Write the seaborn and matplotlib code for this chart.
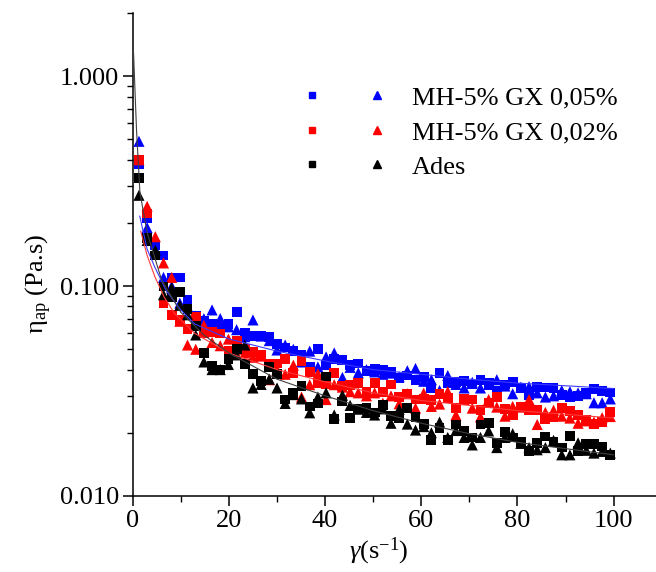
import matplotlib
matplotlib.use('Agg')
import matplotlib.pyplot as plt
import matplotlib.ticker as mticker
from matplotlib.lines import Line2D
from matplotlib.legend_handler import HandlerTuple
import pandas as pd
import seaborn as sns

# shear rate (s-1), same grid for every series
rate = [1.3, 3.0, 4.7, 6.4, 8.1, 9.8, 11.4, 13.1, 14.8, 16.5,
        18.2, 19.9, 21.6, 23.3, 25.0, 26.7, 28.4, 30.0, 31.7, 33.4,
        35.1, 36.8, 38.5, 40.2, 41.9, 43.6, 45.2, 46.9, 48.6, 50.3,
        52.0, 53.7, 55.4, 57.1, 58.8, 60.5, 62.1, 63.8, 65.5, 67.2,
        68.9, 70.6, 72.3, 74.0, 75.7, 77.4, 79.0, 80.7, 82.4, 84.1,
        85.8, 87.5, 89.2, 90.9, 92.6, 94.3, 95.9, 97.6, 99.3]

# apparent viscosity (Pa.s)
blue_sq = [0.38, 0.21, 0.157, 0.14, 0.11, 0.11, 0.086, 0.072, 0.068, 0.066,
           0.064, 0.066, 0.075, 0.060, 0.058, 0.058, 0.057, 0.053, 0.051, 0.049,
           0.047, 0.041, 0.050, 0.042, 0.045, 0.0443, 0.042, 0.0428, 0.0395, 0.0405,
           0.0399, 0.039, 0.0364, 0.0375, 0.0358, 0.037, 0.0328, 0.0385, 0.0344, 0.0348,
           0.0354, 0.034, 0.0358, 0.0346, 0.0318, 0.034, 0.0348, 0.0327, 0.0303, 0.033,
           0.0329, 0.0327, 0.0303, 0.0296, 0.030, 0.031, 0.0322, 0.0317, 0.0311]
blue_tri = [0.49, 0.19, 0.15, 0.11, 0.10, 0.083, 0.080, 0.072, 0.070, 0.077,
            0.070, 0.064, 0.062, 0.0574, 0.069, 0.0578, 0.055, 0.0496, 0.0524, 0.050,
            0.0435, 0.049, 0.0412, 0.046, 0.048, 0.0367, 0.041, 0.0386, 0.040, 0.039,
            0.038, 0.0385, 0.037, 0.0395, 0.0405, 0.0352, 0.0358, 0.0318, 0.0375, 0.034,
            0.0327, 0.0348, 0.0327, 0.034, 0.0358, 0.0334, 0.0307, 0.033, 0.0332, 0.031,
            0.0296, 0.030, 0.0318, 0.0314, 0.031, 0.0307, 0.0278, 0.0278, 0.029]
red_sq = [0.40, 0.222, 0.14, 0.083, 0.073, 0.069, 0.0625, 0.071, 0.060, 0.0605,
          0.0595, 0.049, 0.055, 0.050, 0.0486, 0.047, 0.0428, 0.0428, 0.045, 0.0385,
          0.044, 0.0389, 0.0346, 0.034, 0.0385, 0.0335, 0.0339, 0.0346, 0.0314, 0.0344,
          0.0314, 0.034, 0.0296, 0.0307, 0.0288, 0.029, 0.0286, 0.0306, 0.0292, 0.0262,
          0.029, 0.0288, 0.0256, 0.0277, 0.0295, 0.0259, 0.0243, 0.0265, 0.0256, 0.0256,
          0.0233, 0.0238, 0.0262, 0.0253, 0.0243, 0.0231, 0.0221, 0.0225, 0.0252]
red_tri = [0.40, 0.24, 0.172, 0.129, 0.11, 0.068, 0.0524, 0.050, 0.065, 0.0539,
           0.052, 0.0559, 0.050, 0.048, 0.0458, 0.0464, 0.0358, 0.040, 0.038, 0.042,
           0.0296, 0.0339, 0.0382, 0.0288, 0.0339, 0.033, 0.0314, 0.031, 0.030, 0.031,
           0.0277, 0.030, 0.0275, 0.0307, 0.0262, 0.0309, 0.0267, 0.0274, 0.0314, 0.0243,
           0.0288, 0.0262, 0.0238, 0.0288, 0.0265, 0.024, 0.0267, 0.0265, 0.0288, 0.0219,
           0.025, 0.0256, 0.024, 0.0235, 0.0222, 0.0228, 0.0225, 0.0236, 0.0239]
black_sq = [0.328, 0.17, 0.14, 0.0995, 0.089, 0.094, 0.078, 0.0645, 0.048, 0.0417,
            0.040, 0.045, 0.050, 0.0424, 0.038, 0.0352, 0.041, 0.038, 0.0288, 0.031,
            0.0334, 0.0267, 0.0276, 0.0371, 0.0233, 0.0282, 0.0236, 0.026, 0.0262, 0.025,
            0.0272, 0.024, 0.0236, 0.0262, 0.0238, 0.022, 0.0184, 0.021, 0.0184, 0.0219,
            0.0204, 0.019, 0.0219, 0.0223, 0.0178, 0.0202, 0.019, 0.018, 0.0163, 0.0178,
            0.0192, 0.018, 0.017, 0.0193, 0.0163, 0.0177, 0.0177, 0.0172, 0.0157]
black_tri = [0.271, 0.165, 0.148, 0.091, 0.098, 0.081, 0.073, 0.0585, 0.0435, 0.040,
             0.040, 0.0423, 0.047, 0.0524, 0.0327, 0.034, 0.036, 0.0327, 0.0276, 0.0304,
             0.029, 0.0249, 0.0296, 0.031, 0.0243, 0.0302, 0.027, 0.0259, 0.025, 0.0243,
             0.026, 0.0222, 0.0259, 0.022, 0.0206, 0.0214, 0.020, 0.0225, 0.019, 0.0205,
             0.019, 0.0175, 0.019, 0.0204, 0.0170, 0.019, 0.0198, 0.0178, 0.017, 0.0166,
             0.017, 0.0184, 0.0157, 0.0157, 0.0179, 0.0165, 0.016, 0.0163, 0.016]

# fitted curves, points
fit_blue_x = [1.45, 3, 4.6, 7, 10, 12.9, 20, 30, 40, 50, 60, 70, 80, 90, 100]
fit_blue_y = [0.216, 0.15, 0.123, 0.095, 0.077, 0.066, 0.056, 0.049, 0.044, 0.040,
              0.038, 0.036, 0.0345, 0.0335, 0.0325]
fit_red_x = [1.66, 3, 4.6, 6.5, 8.7, 12.9, 20, 30, 40, 50, 60, 70, 80, 90, 100]
fit_red_y = [0.183, 0.14, 0.111, 0.089, 0.074, 0.0595, 0.048, 0.040, 0.035, 0.031,
             0.0285, 0.027, 0.0255, 0.0245, 0.0235]
fit_black_x = [0.13, 0.8, 1.5, 3, 6, 10, 15, 20, 30, 40, 50, 60, 70, 80, 90, 100]
fit_black_y = [1.37, 0.55, 0.28, 0.18, 0.107, 0.075, 0.058, 0.048, 0.036, 0.030,
               0.0255, 0.0222, 0.0198, 0.018, 0.0168, 0.0157]

labels = ['MH-5% GX 0,05%', 'MH-5% GX 0,02%', 'Ades']
colors = ['#0000ff', '#ff0000', '#000000']
line_colors = ['#3a3aff', '#ff3a3a', '#404040']

# long tables for seaborn
rows = []
for lab, sq, tri in zip(labels, [blue_sq, red_sq, black_sq], [blue_tri, red_tri, black_tri]):
    for x, y in zip(rate, sq):
        rows.append((lab, 'sq', x, y))
    for x, y in zip(rate, tri):
        rows.append((lab, 'tri', x, y))
pts = pd.DataFrame(rows, columns=['sample', 'mark', 'rate', 'eta'])

frows = []
for lab, fx, fy in zip(labels, [fit_blue_x, fit_red_x, fit_black_x], [fit_blue_y, fit_red_y, fit_black_y]):
    for x, y in zip(fx, fy):
        frows.append((lab, x, y))
fits = pd.DataFrame(frows, columns=['sample', 'rate', 'eta'])

sns.set_style('ticks')
plt.rcParams['font.family'] = ['Liberation Serif', 'DejaVu Serif']
plt.rcParams['mathtext.fontset'] = 'custom'
plt.rcParams['mathtext.rm'] = 'Liberation Serif'
plt.rcParams['mathtext.it'] = 'Liberation Serif:italic'
for k in ['text.color', 'axes.labelcolor', 'xtick.color', 'ytick.color', 'axes.edgecolor']:
    plt.rcParams[k] = 'black'

fig = plt.figure(figsize=(6.56, 5.72), dpi=100)
ax = fig.add_axes([0.2023, 0.133, 0.7977, 0.844])
ax.set_yscale('log')

sns.scatterplot(data=pts, x='rate', y='eta', hue='sample', style='mark', size='mark',
                palette=dict(zip(labels, colors)), markers={'sq': 's', 'tri': '^'},
                sizes={'sq': 50, 'tri': 64}, linewidth=0, legend=False, ax=ax)
sns.lineplot(data=fits, x='rate', y='eta', hue='sample', palette=dict(zip(labels, line_colors)),
             linewidth=0.8, estimator=None, sort=False, legend=False, ax=ax)
for ln in ax.lines:
    ln.set_zorder(3)

ax.set_xlim(0, 108.8)
ax.set_ylim(0.01, 2.0)
ax.xaxis.set_major_locator(mticker.MultipleLocator(20))
ax.xaxis.set_minor_locator(mticker.MultipleLocator(10))
ax.yaxis.set_major_locator(mticker.FixedLocator([0.01, 0.1, 1.0]))
ax.yaxis.set_major_formatter(mticker.FuncFormatter(lambda v, p: '%.3f' % v))
ax.yaxis.set_minor_locator(mticker.LogLocator(base=10, subs=range(2, 10)))
ax.yaxis.set_minor_formatter(mticker.NullFormatter())

sns.despine(ax=ax)
for s in ['left', 'bottom']:
    ax.spines[s].set_linewidth(1.1)
ax.tick_params(which='major', length=7, width=1.1, labelsize=19, pad=3, direction='out')
ax.tick_params(which='minor', length=4, width=1.0, direction='out')

ax.set_xlabel(r'$\gamma$(s$^{\mathregular{-1}}$)', fontsize=19)
ax.set_ylabel(r'η$_{\mathregular{ap}}$ (Pa.s)', fontsize=19)
ax.xaxis.set_label_coords(0.47, -0.083)
ax.yaxis.set_label_coords(-0.15, 0.44)

handles = []
for c in colors:
    sq = Line2D([], [], marker='s', color=c, linestyle='none', markersize=5)
    tri = Line2D([], [], marker='^', color=c, linestyle='none', markersize=5.5)
    handles.append((sq, tri))
ax.legend(handles, labels, handler_map={tuple: HandlerTuple(ndivide=None, pad=0)},
          loc='upper left', bbox_to_anchor=(279.5 / 656, 1 - 86 / 572),
          bbox_transform=fig.transFigure, frameon=False, fontsize=19,
          handlelength=4.92, handletextpad=0.1, labelspacing=0.42,
          borderpad=0, borderaxespad=0)

fig.savefig('out.png', dpi=100)
